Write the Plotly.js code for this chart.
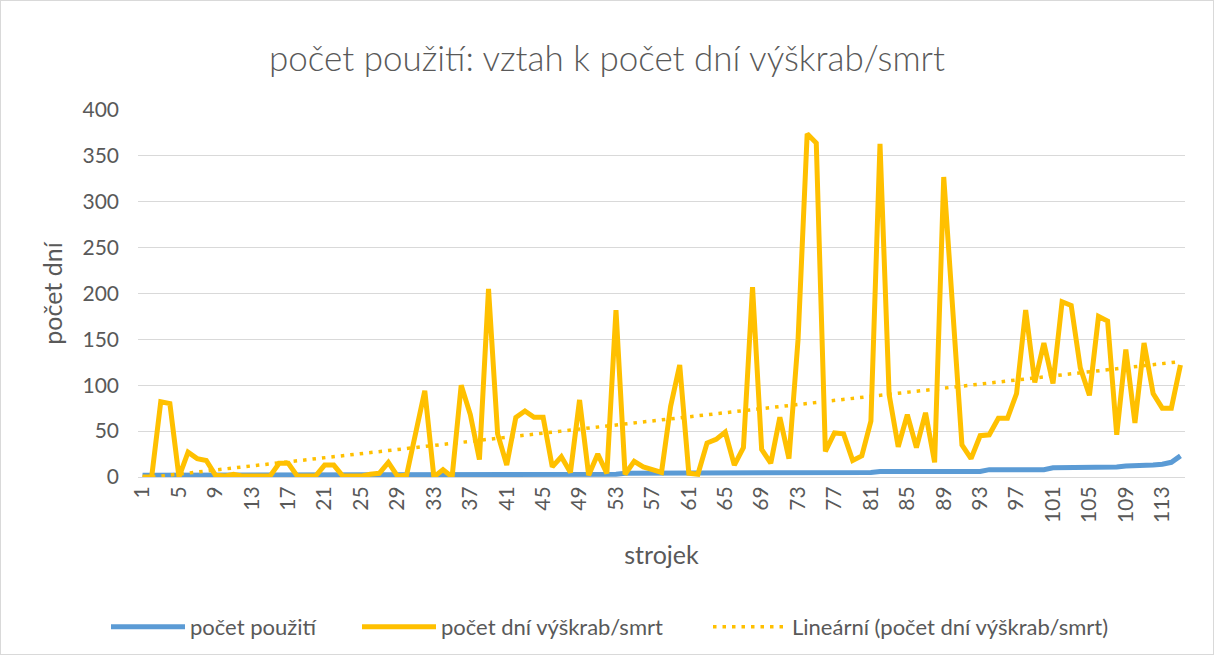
<!DOCTYPE html>
<html>
<head>
<meta charset="utf-8">
<script src="https://cdn.plot.ly/plotly-3.0.1.min.js"></script>
<style>
  html, body { margin: 0; padding: 0; background: #ffffff; }
  #wrap { position: relative; width: 1214px; height: 655px; }
  #chart { width: 1214px; height: 655px; }
  #frame { position: absolute; left: 0; top: 0; width: 1212px; height: 653px; border: 1px solid #d9d9d9; pointer-events: none; }
</style>
</head>
<body>
<div id="wrap"><div id="chart"></div><div id="frame"></div></div>
<script>
// ---- data ----
const machineIds = Array.from({length: 115}, (_, i) => i + 1); // strojek 1..115

const usesCount = [
  2,2,2,2,2,2,2,2,2,2,
  2,2,2,2,2,2,2,2,2,2,
  2,2,2,2,2,3,3,3,3,3,
  3,3,3,3,3,3,3,3,3,3,
  3,3,3,3,3,3,3,3,3,3,
  3,3,3,4,4,4,4,4,4,4,
  4,4,4,4,4,4,4,4,4,4,
  4,4,5,5,5,5,5,5,5,5,
  5,6,6,6,6,6,6,6,6,6,
  6,6,6,8,8,8,8,8,8,8,
  10,10,10,10,11,11,11,11,12,12,
  12,13,14,16,23
];

const daysScrapDeath = [
  0,0,82,80,0,27,20,18,2,1,
  3,1,1,1,1,15,15,1,1,1,
  13,13,1,1,1,3,4,16,1,2,
  47,94,0,8,0,100,68,19,205,47,
  13,65,72,65,65,11,22,5,84,2,
  25,4,182,3,17,11,8,5,77,122,
  4,3,37,41,49,13,32,207,30,15,
  65,20,150,374,364,28,48,47,18,23,
  61,363,90,33,68,32,70,16,327,180,
  35,20,45,46,64,64,91,182,103,146,
  102,191,187,119,89,175,170,46,139,59,
  146,91,75,75,122
];

const seriesNames = ["počet použití", "počet dní výškrab/smrt", "Lineární (počet dní výškrab/smrt)"];
const xTickVals = [1,5,9,13,17,21,25,29,33,37,41,45,49,53,57,61,65,69,73,77,81,85,89,93,97,101,105,109,113];
const yTickVals = [0,50,100,150,200,250,300,350,400];

// ---- linear trend (least squares, as Excel's trendline) ----
const n = machineIds.length;
const mx = machineIds.reduce((a, b) => a + b, 0) / n;
const my = daysScrapDeath.reduce((a, b) => a + b, 0) / n;
let sxy = 0, sxx = 0;
for (let i = 0; i < n; i++) { sxy += (machineIds[i] - mx) * (daysScrapDeath[i] - my); sxx += (machineIds[i] - mx) ** 2; }
const slope = sxy / sxx, intercept = my - slope * mx;
const trendX = [machineIds[0], machineIds[n - 1]];
const trendY = trendX.map(x => intercept + slope * x);

const FONT = "Lato, 'Open Sans', sans-serif";
const GREY = "#595959";

const traces = [
  { x: machineIds, y: usesCount, type: "scatter", mode: "lines", name: seriesNames[0], legend: "legend",
    line: { color: "#5B9BD5", width: 5 } },
  { x: machineIds, y: daysScrapDeath, type: "scatter", mode: "lines", name: seriesNames[1], legend: "legend2",
    line: { color: "#FFC000", width: 5 } },
  { x: trendX, y: trendY, type: "scatter", mode: "lines", name: seriesNames[2], legend: "legend3",
    line: { color: "#FFC000", width: 3.5, dash: "3.5px,6px" } }
];

function legendAt(px) {
  return { orientation: "h", x: (px - 138) / 1047, xanchor: "left", y: -0.4087, yanchor: "middle",
           font: { size: 22, color: GREY, family: FONT }, itemwidth: 74, bgcolor: "rgba(0,0,0,0)" };
}

const layout = {
  width: 1214, height: 655,
  paper_bgcolor: "#ffffff", plot_bgcolor: "#ffffff",
  margin: { l: 138, r: 29, t: 110, b: 178, autoexpand: false },
  font: { family: FONT, color: GREY, size: 21 },
  title: { text: "počet použití: vztah k počet dní výškrab/smrt", font: { family: FONT, size: 35, color: GREY, weight: 300 },
           x: 0.5, xanchor: "center", y: 0.91, yanchor: "middle", yref: "container" },
  xaxis: {
    range: [0.5, 115.5], tickvals: xTickVals, ticktext: xTickVals.map(String), tickangle: -90,
    showgrid: false, zeroline: false, showline: true, linecolor: "#d9d9d9", linewidth: 1,
    ticks: "", automargin: false, tickfont: { size: 21, color: GREY, family: FONT },
    title: { text: "strojek", font: { size: 25, color: GREY, family: FONT }, standoff: 24 }
  },
  yaxis: {
    range: [0, 400], tickvals: yTickVals, showgrid: true, gridcolor: "#d9d9d9", gridwidth: 1,
    zeroline: false, showline: false, ticks: "", ticklabelstandoff: 18, automargin: false,
    tickfont: { size: 21, color: GREY, family: FONT },
    title: { text: "počet dní", font: { size: 25, color: GREY, family: FONT }, standoff: 12 }
  },
  showlegend: true,
  legend: legendAt(106),
  legend2: legendAt(357),
  legend3: legendAt(708)
};

Plotly.newPlot("chart", traces, layout, { displayModeBar: false, staticPlot: true });
</script>
</body>
</html>
